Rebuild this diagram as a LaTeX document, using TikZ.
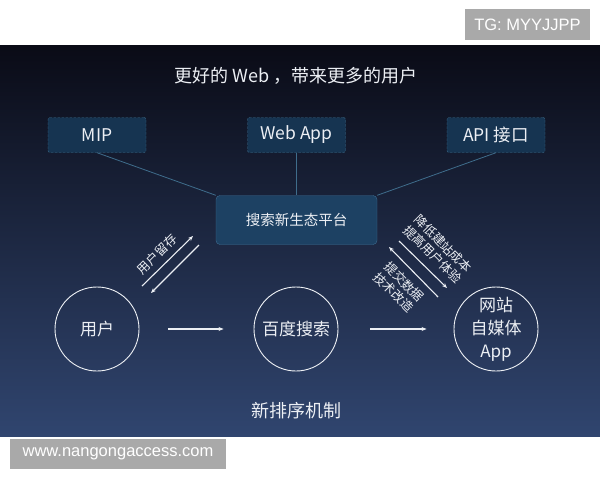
\documentclass[tikz,border=0pt]{standalone}
\usepackage{fontspec}
\setmainfont{Noto Sans CJK SC}
\newfontfamily\markfont{Liberation Sans}
\usetikzlibrary{arrows.meta}
\definecolor{paneltop}{HTML}{0A0B16}
\definecolor{panelmid}{HTML}{1C2846}
\definecolor{panelbot}{HTML}{30456F}
\definecolor{boxfill}{HTML}{163451}
\definecolor{boxline}{HTML}{3F6D8C}
\definecolor{hubfill}{HTML}{1D4163}
\definecolor{hubline}{HTML}{3E6D91}
\definecolor{txt}{HTML}{ECEFF4}
\definecolor{markgray}{HTML}{A9A9A9}
\begin{document}
\begin{tikzpicture}[x=1pt,y=-1pt,>={Stealth[length=5pt,width=4pt]},
    every node/.style={text=txt,inner sep=0pt},
    dashbox/.style={draw=boxline,dash pattern=on 2.5pt off 1.5pt,fill=boxfill,rounded corners=2pt,
        minimum width=98pt,minimum height=35pt,font=\fontsize{17.5}{19}\selectfont},
    hub/.style={draw=hubline,fill=hubfill,rounded corners=4pt,minimum width=161pt,minimum height=49pt,
        font=\fontsize{14.5}{16}\selectfont},
    ring/.style={draw=txt!90,line width=.9pt,circle,minimum size=84pt,align=center,
        font=\fontsize{17}{23}\selectfont},
    link/.style={draw=boxline,line width=.8pt},
    flow/.style={draw=txt,line width=1.1pt,->},
    tag/.style={align=center,font=\fontsize{12.5}{15}\selectfont},
    stamp/.style={fill=markgray,text=white,font=\markfont\fontsize{16.5}{18}\selectfont}]
    \useasboundingbox[fill=white] (0,0) rectangle (600,480);
    \shade[top color=paneltop,middle color=panelmid,bottom color=panelbot] (0,45) rectangle (600,436);
    \node[stamp,minimum width=125pt,minimum height=31pt] (tg) at (527.5,24.5) {TG: MYYJJPP};
    \node[stamp,minimum width=216pt,minimum height=30pt] (web) at (118,454) {www.nangongaccess.com};

    \node[font=\fontsize{18}{20}\selectfont] (title) at (296,76) {更好的 Web ，带来更多的用户};
    \node[dashbox] (mip) at (97,135) {MIP};
    \node[dashbox] (webapp) at (296.5,135) {Web App};
    \node[dashbox] (api) at (496,135) {API 接口};
    \node[hub] (hub) at (296.5,220) {搜索新生态平台};
    \draw[link] (mip.south) -- (hub.north west);
    \draw[link] (webapp.south) -- (hub.north);
    \draw[link] (api.south) -- (hub.north east);

    \node[ring] (user) at (97,329) {用户};
    \node[ring] (search) at (296,329) {百度搜索};
    \node[ring] (site) at (496,329) {网站\\自媒体\\App};
    \draw[flow,shorten <=29pt,shorten >=30pt] (user) -- (search);
    \draw[flow,shorten <=32pt,shorten >=27pt] (search) -- (site);

    \coordinate (ua) at (142,286);
    \coordinate (ub) at (193,236);
    \coordinate (uc) at (199,245);
    \coordinate (ud) at (151,293);
    \draw[flow] (ua) -- (ub);
    \draw[flow] (uc) -- (ud);
    \node[tag,rotate=45] (keep) at (157,254) {用户留存};

    \coordinate (sa) at (399,241);
    \coordinate (sb) at (447,288);
    \coordinate (sc) at (438,297);
    \coordinate (sd) at (389,247);
    \draw[flow] (sa) -- (sb);
    \draw[flow] (sc) -- (sd);
    \node[tag,rotate=-45] (cost) at (438,249) {降低建站成本\\提高用户体验};
    \node[tag,rotate=-45] (data) at (399,287) {提交数据\\技术改造};

    \node[font=\fontsize{18}{20}\selectfont] (rank) at (296,411) {新排序机制};
\end{tikzpicture}
\end{document}
